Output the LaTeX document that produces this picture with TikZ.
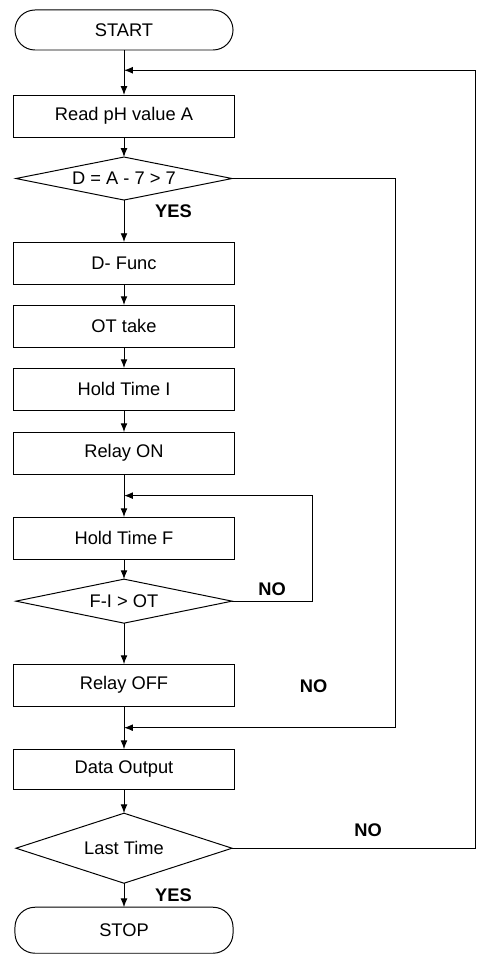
\documentclass[tikz,border=0pt]{standalone}
\usepackage{fontspec}
\setmainfont{Liberation Sans}
\usetikzlibrary{positioning,shapes.geometric,arrows.meta,calc}

\begin{document}
\begin{tikzpicture}[
    x=0.025cm, y=-0.025cm,
    node distance=0.525cm,
    every node/.style={font=\fontsize{13}{15}\selectfont},
    box/.style={rectangle, draw, line width=0.7pt, outer sep=0pt, minimum width=5.5cm, minimum height=1.05cm, align=center},
    term/.style={box, rounded corners=0.5cm, minimum width=5.45cm},
    decision/.style={diamond, draw, line width=0.7pt, outer sep=0pt, aspect=5, inner sep=0pt, text height=9pt, text depth=0pt, minimum width=5.4cm},
    lbl/.style={font=\fontsize{13}{15}\selectfont\bfseries},
    arrow/.style={-{Latex[length=2.2mm,width=1.7mm]}, line width=0.7pt}
]
\useasboundingbox (0,0) rectangle (478,958);

% Main column
\node[term, minimum height=1cm] (start) at (124,30) {START};
\node[box, below=1.125cm of start] (read) {Read pH value A};
\node[decision, minimum height=1.075cm, below=0.5cm of read] (dcheck) {D = A - 7 > 7};
\node[box, below=1.05cm of dcheck] (dfunc) {D- Func};
\node[box, below=of dfunc] (ottake) {OT take};
\node[box, below=of ottake] (holdi) {Hold Time I};
\node[box, below=0.55cm of holdi] (relayon) {Relay ON};
\node[box, below=1.075cm of relayon] (holdf) {Hold Time F};
\node[decision, minimum height=1.1cm, below=0.5cm of holdf] (fcheck) {F-I > OT};
\node[box, below=1.025cm of fcheck] (relayoff) {Relay OFF};
\node[box, minimum height=1cm, below=1.075cm of relayoff] (dataout) {Data Output};
\node[decision, minimum height=1.75cm, below=0.6cm of dataout] (last) {Last Time};
\node[term, minimum height=1.15cm, below=0.6cm of last] (stop) {STOP};

% Junctions and return columns
\coordinate (j1) at ($(start.south)!0.45!(read.north)$);
\coordinate (j2) at ($(relayon.south)!0.5!(holdf.north)$);
\coordinate (j3) at ($(relayoff.south)!0.5!(dataout.north)$);
\coordinate (colF) at (312,0);
\coordinate (colD) at (395,0);
\coordinate (colL) at (475,0);

% Forward arrows
\draw[arrow] (start) -- (read);
\draw[arrow] (read) -- (dcheck);
\draw[arrow] (dcheck) -- node[lbl, pos=0.26, right=0.65cm] {YES} (dfunc);
\draw[arrow] (dfunc) -- (ottake);
\draw[arrow] (ottake) -- (holdi);
\draw[arrow] (holdi) -- (relayon);
\draw[arrow] (relayon) -- (holdf);
\draw[arrow] (holdf) -- (fcheck);
\draw[arrow] (fcheck) -- (relayoff);
\draw[arrow] (relayoff) -- (dataout);
\draw[arrow] (dataout) -- (last);
\draw[arrow] (last) -- node[lbl, pos=0.5, right=0.65cm] {YES} (stop);

% Return loops
\draw[arrow] (fcheck.east) -| node[lbl, pos=0.25, above] {NO} (colF |- j2) -- (j2);
\draw[arrow] (dcheck.east) -| (colD |- j3) -- node[lbl, pos=0.3, above=0.75cm] {NO} (j3);
\draw[arrow] (last.east) -| node[lbl, pos=0.28, above=0.15cm] {NO} (colL |- j1) -- (j1);

\end{tikzpicture}
\end{document}
